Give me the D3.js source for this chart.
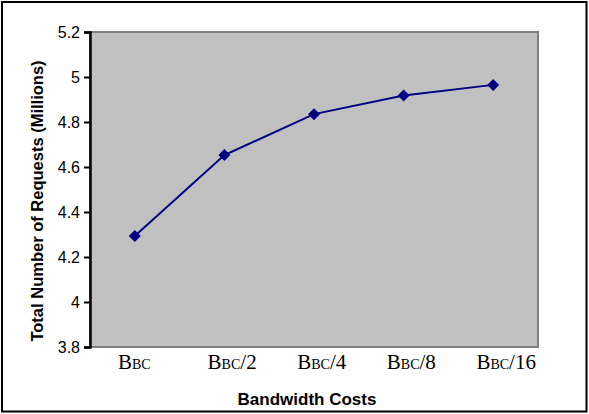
<!DOCTYPE html>
<html>
<head>
<meta charset="utf-8">
<script src="https://cdn.jsdelivr.net/npm/d3@7"></script>
<style>
  html, body { margin: 0; padding: 0; background: #fff; }
  svg { display: block; }
</style>
</head>
<body>
<svg id="chart" width="589" height="414"></svg>
<script>
// Bandwidth cost levels (divisor of the base cost B_BC)
const categories = ["", "/2", "/4", "/8", "/16"];
// Total number of requests served, in millions
const requests = [4.293, 4.653, 4.835, 4.918, 4.965];
const yTicks = [3.8, 4, 4.2, 4.4, 4.6, 4.8, 5, 5.2];

const W = 589, H = 414;
const plot = { left: 90, top: 32, right: 538, bottom: 347 };

const svg = d3.select("#chart");

// Outer frame
svg.append("rect")
  .attr("x", 2).attr("y", 2)
  .attr("width", W - 4.5).attr("height", H - 4.5)
  .attr("fill", "#fff").attr("stroke", "#000").attr("stroke-width", 2);

const x = d3.scaleBand()
  .domain(d3.range(categories.length))
  .range([plot.left, plot.right])
  .paddingInner(0).paddingOuter(0);

const y = d3.scaleLinear()
  .domain([3.8, 5.2])
  .range([plot.bottom, plot.top]);

// Plot area
svg.append("rect")
  .attr("x", plot.left).attr("y", plot.top)
  .attr("width", plot.right - plot.left)
  .attr("height", plot.bottom - plot.top)
  .attr("fill", "#c0c0c0")
  .attr("stroke", "#808080").attr("stroke-width", 2);

// Y axis
const yAxis = d3.axisLeft(y)
  .tickValues(yTicks)
  .tickSize(6)
  .tickPadding(4)
  .tickFormat(d => d3.format("")(+d.toFixed(1)));

const gy = svg.append("g")
  .attr("transform", `translate(${plot.left},0)`)
  .call(yAxis);
gy.select(".domain").attr("stroke", "#000").attr("stroke-width", 2.5);
gy.selectAll(".tick line").attr("stroke", "#000").attr("stroke-width", 2);
gy.selectAll(".tick text")
  .attr("font-family", "Liberation Sans, Arial, sans-serif")
  .attr("font-size", 16)
  .attr("fill", "#000");

// X category labels: B with small BC, then divisor
const xl = svg.append("g");
categories.forEach((c, i) => {
  const t = xl.append("text")
    .attr("x", x(i) + 28)
    .attr("y", 369)
    .attr("text-anchor", "start")
    .attr("font-family", "Liberation Serif, 'Times New Roman', serif")
    .attr("font-size", 21)
    .attr("fill", "#000");
  t.append("tspan").text("B");
  t.append("tspan").attr("font-size", 14).text("BC");
  if (c) t.append("tspan").text(c);
});

// Line and diamond markers
const line = d3.line()
  .x((d, i) => x(i) + x.bandwidth() / 2)
  .y(d => y(d));

svg.append("path")
  .datum(requests)
  .attr("d", line)
  .attr("fill", "none")
  .attr("stroke", "#000080")
  .attr("stroke-width", 2);

svg.append("g").selectAll("path")
  .data(requests)
  .join("path")
  .attr("transform", (d, i) => `translate(${x(i) + x.bandwidth() / 2},${y(d)})`)
  .attr("d", "M0,-6L6,0L0,6L-6,0Z")
  .attr("fill", "#000080");

// Axis titles
svg.append("text")
  .attr("transform", "translate(42.5,201) rotate(-90)")
  .attr("text-anchor", "middle")
  .attr("font-family", "Liberation Sans, Arial, sans-serif")
  .attr("font-weight", "bold")
  .attr("font-size", 16.5)
  .text("Total Number of Requests (Millions)");

svg.append("text")
  .attr("x", 307)
  .attr("y", 405)
  .attr("text-anchor", "middle")
  .attr("font-family", "Liberation Sans, Arial, sans-serif")
  .attr("font-weight", "bold")
  .attr("font-size", 17)
  .text("Bandwidth Costs");
</script>
</body>
</html>
